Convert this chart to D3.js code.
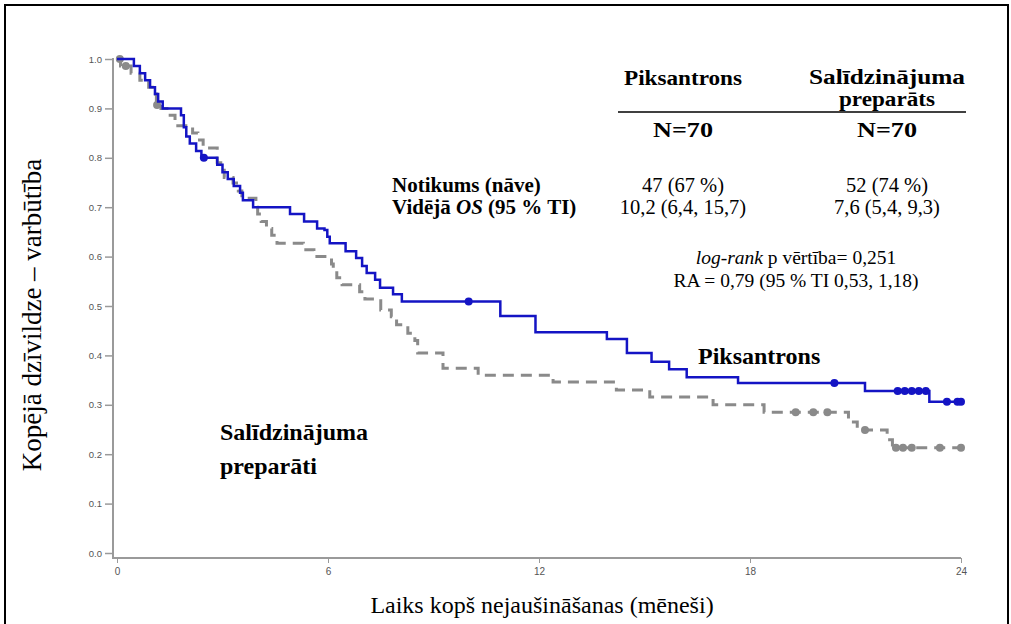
<!DOCTYPE html>
<html>
<head>
<meta charset="utf-8">
<script src="https://cdn.jsdelivr.net/npm/d3@7"></script>
<style>
  body { margin: 0; background: #fff; }
  svg { display: block; }
  .serif { font-family: "Liberation Serif", "Times New Roman", serif; }
  .sans { font-family: "Liberation Sans", Arial, sans-serif; }
</style>
</head>
<body>
<script>
// Piksantrons (blue, solid) - step points (months, survival)
const pixTimes = [0, 0.48, 0.65, 0.80, 0.94, 1.08, 1.17, 1.30, 1.82, 1.90, 1.97, 2.07, 2.25, 2.40, 2.85, 3.00, 3.15, 3.32, 3.50, 3.58, 3.87, 4.92, 5.32, 5.69, 5.90, 5.98, 6.05, 6.50, 6.80, 6.97, 7.10, 7.34, 7.48, 7.85, 8.10, 10.9, 11.9, 13.93, 14.5, 15.2, 15.7, 16.2, 17.66, 21.27, 23.1, 24.0]
const pixSurv  = [1.0, 0.986, 0.971, 0.957, 0.943, 0.929, 0.914, 0.900, 0.886, 0.862, 0.843, 0.829, 0.814, 0.800, 0.786, 0.771, 0.757, 0.743, 0.729, 0.714, 0.700, 0.686, 0.671, 0.657, 0.654, 0.640, 0.627, 0.611, 0.597, 0.581, 0.567, 0.553, 0.537, 0.524, 0.509, 0.480, 0.447, 0.433, 0.405, 0.387, 0.372, 0.356, 0.344, 0.328, 0.306, 0.306]
const pixCensT = [2.47, 10.0, 20.4, 22.2, 22.4, 22.6, 22.8, 23.0, 23.6, 23.9, 24.0]
const pixCensS = [0.800, 0.509, 0.344, 0.328, 0.328, 0.328, 0.328, 0.328, 0.306, 0.306, 0.306]

// Salīdzinājuma preparāti (grey, dashed)
const cmpTimes = [0, 0.10, 0.40, 0.65, 0.90, 1.05, 1.12, 1.25, 1.42, 1.65, 2.15, 2.30, 2.45, 2.85, 2.95, 3.05, 3.30, 3.45, 3.55, 3.95, 4.00, 4.10, 4.25, 4.40, 4.55, 5.30, 5.60, 6.10, 6.15, 6.25, 6.40, 6.90, 7.05, 7.50, 7.80, 7.95, 8.27, 8.47, 8.55, 9.27, 10.27, 12.4, 14.2, 15.15, 16.95, 18.4, 20.8, 21.05, 21.9, 22.05, 24.0]
const cmpSurv  = [1.0, 0.986, 0.971, 0.957, 0.943, 0.929, 0.914, 0.900, 0.886, 0.865, 0.850, 0.836, 0.820, 0.790, 0.775, 0.760, 0.749, 0.733, 0.718, 0.700, 0.686, 0.671, 0.657, 0.643, 0.627, 0.614, 0.600, 0.585, 0.571, 0.557, 0.543, 0.529, 0.514, 0.492, 0.478, 0.462, 0.445, 0.430, 0.405, 0.374, 0.360, 0.346, 0.330, 0.316, 0.300, 0.285, 0.265, 0.249, 0.229, 0.213, 0.213]
const cmpCensT = [0.08, 0.25, 1.14, 19.3, 19.8, 20.2, 21.27, 22.15, 22.35, 22.6, 23.4, 24.0]
const cmpCensS = [1.0, 0.986, 0.907, 0.285, 0.285, 0.285, 0.249, 0.213, 0.213, 0.213, 0.213, 0.213]

const xTicks = [0, 6, 12, 18, 24]
const yTicks = [0, 0.1, 0.2, 0.3, 0.4, 0.5, 0.6, 0.7, 0.8, 0.9, 1.0]

const w = 1011
const h = 624

const svg = d3.select('body')
     .append('svg')
     .attr('width', w)
     .attr('height', h)

// frame
svg.append('rect')
     .attr('x', 5).attr('y', 5)
     .attr('width', 1003).attr('height', 640)
     .attr('fill', 'none')
     .attr('stroke', '#000')
     .attr('stroke-width', 2)

const xScale = d3.scaleLinear().domain([0, 24]).range([117, 961])
const yScale = d3.scaleLinear().domain([0, 1]).range([553, 59])

const axisColor = '#9a9a9a'
const tickText = '#555'

// y axis
const yAxis = d3.axisLeft(yScale).tickValues(yTicks).tickFormat(d3.format('.1f')).tickSize(8).tickSizeOuter(0)
const gy = svg.append('g').attr('transform', 'translate(113,0)').call(yAxis)
gy.select('.domain').remove()
gy.selectAll('line').attr('stroke', axisColor).attr('stroke-width', 1.5)
gy.selectAll('text').attr('class', 'sans').attr('fill', tickText).attr('font-size', 9.5).attr('x', -11)
svg.append('line')
     .attr('x1', 113).attr('x2', 113)
     .attr('y1', yScale(1) - 1).attr('y2', 558)
     .attr('stroke', axisColor).attr('stroke-width', 2)

// x axis
const xAxis = d3.axisBottom(xScale).tickValues(xTicks).tickSize(5).tickSizeOuter(0)
const gx = svg.append('g').attr('transform', 'translate(0,558)').call(xAxis)
gx.select('.domain').remove()
gx.selectAll('line').attr('stroke', axisColor).attr('stroke-width', 1)
gx.selectAll('text').attr('class', 'sans').attr('fill', tickText).attr('font-size', 10).attr('y', 10)
svg.append('line')
     .attr('x1', 112).attr('x2', xScale(24))
     .attr('y1', 558).attr('y2', 558)
     .attr('stroke', axisColor).attr('stroke-width', 2)

// axis titles
svg.append('text')
     .attr('class', 'serif')
     .attr('transform', 'translate(41,315) rotate(-90)')
     .attr('text-anchor', 'middle')
     .attr('font-size', 27)
     .text('Kopējā dzīvildze – varbūtība')
svg.append('text')
     .attr('class', 'serif')
     .attr('x', 542).attr('y', 613)
     .attr('text-anchor', 'middle')
     .attr('font-size', 24)
     .text('Laiks kopš nejaušināšanas (mēneši)')

// curves
const line = d3.line()
     .x(d => xScale(d[0]))
     .y(d => yScale(d[1]))
     .curve(d3.curveStepAfter)

const cmpData = cmpTimes.map((t, i) => [t, cmpSurv[i]])
const pixData = pixTimes.map((t, i) => [t, pixSurv[i]])

svg.append('path')
     .datum(cmpData)
     .attr('d', line)
     .attr('fill', 'none')
     .attr('stroke', '#8a8a8a')
     .attr('stroke-width', 3)
     .attr('stroke-dasharray', '11,7')

svg.selectAll('circle.cmp')
     .data(cmpCensT.map((t, i) => [t, cmpCensS[i]]))
     .enter()
     .append('circle')
     .attr('class', 'cmp')
     .attr('cx', d => xScale(d[0]))
     .attr('cy', d => yScale(d[1]))
     .attr('r', 4)
     .attr('fill', '#8a8a8a')

svg.append('path')
     .datum(pixData)
     .attr('d', line)
     .attr('fill', 'none')
     .attr('stroke', '#1414c4')
     .attr('stroke-width', 2.5)

svg.selectAll('circle.pix')
     .data(pixCensT.map((t, i) => [t, pixCensS[i]]))
     .enter()
     .append('circle')
     .attr('class', 'pix')
     .attr('cx', d => xScale(d[0]))
     .attr('cy', d => yScale(d[1]))
     .attr('r', 4)
     .attr('fill', '#1414c4')

// curve labels
svg.append('text').attr('class', 'serif').attr('x', 698).attr('y', 364)
     .attr('font-size', 24).attr('font-weight', 'bold')
     .text('Piksantrons')
svg.append('text').attr('class', 'serif').attr('x', 220).attr('y', 440)
     .attr('font-size', 24).attr('font-weight', 'bold')
     .text('Salīdzinājuma')
svg.append('text').attr('class', 'serif').attr('x', 220).attr('y', 474)
     .attr('font-size', 24).attr('font-weight', 'bold')
     .text('preparāti')

// statistics table
const col1 = 683
const col2 = 887
const tbl = svg.append('g').attr('class', 'serif')
const addText = (x, y, txt, anchor, bold, size) => tbl.append('text')
     .attr('x', x).attr('y', y)
     .attr('text-anchor', anchor)
     .attr('font-weight', bold ? 'bold' : 'normal')
     .attr('font-size', size)
     .text(txt)

addText(col1, 85, 'Piksantrons', 'middle', true, 20)
     .attr('textLength', 118).attr('lengthAdjust', 'spacingAndGlyphs')
addText(col2, 84, 'Salīdzinājuma', 'middle', true, 20)
     .attr('textLength', 156).attr('lengthAdjust', 'spacingAndGlyphs')
addText(col2, 106, 'preparāts', 'middle', true, 20)
     .attr('textLength', 96).attr('lengthAdjust', 'spacingAndGlyphs')
tbl.append('line').attr('x1', 618).attr('x2', 966).attr('y1', 112).attr('y2', 112)
     .attr('stroke', '#000').attr('stroke-width', 1.5)
addText(col1, 137, 'N=70', 'middle', true, 21)
     .attr('textLength', 60).attr('lengthAdjust', 'spacingAndGlyphs')
addText(col2, 137, 'N=70', 'middle', true, 21)
     .attr('textLength', 60).attr('lengthAdjust', 'spacingAndGlyphs')

addText(392, 192, 'Notikums (nāve)', 'start', true, 21)
const os = addText(392, 214, 'Vidējā ', 'start', true, 21)
os.append('tspan').attr('font-style', 'italic').text('OS')
os.append('tspan').text(' (95 % TI)')

addText(col1, 192, '47 (67 %)', 'middle', false, 20.5)
addText(col2, 192, '52 (74 %)', 'middle', false, 20.5)
addText(col1, 214, '10,2 (6,4, 15,7)', 'middle', false, 20.5)
addText(col2, 214, '7,6 (5,4, 9,3)', 'middle', false, 20.5)

const lr = addText(796, 264, '', 'middle', false, 19.5)
lr.append('tspan').attr('font-style', 'italic').text('log-rank')
lr.append('tspan').text(' p vērtība= 0,251')
addText(796, 287, 'RA = 0,79 (95 % TI 0,53, 1,18)', 'middle', false, 19.5)
</script>
</body>
</html>
